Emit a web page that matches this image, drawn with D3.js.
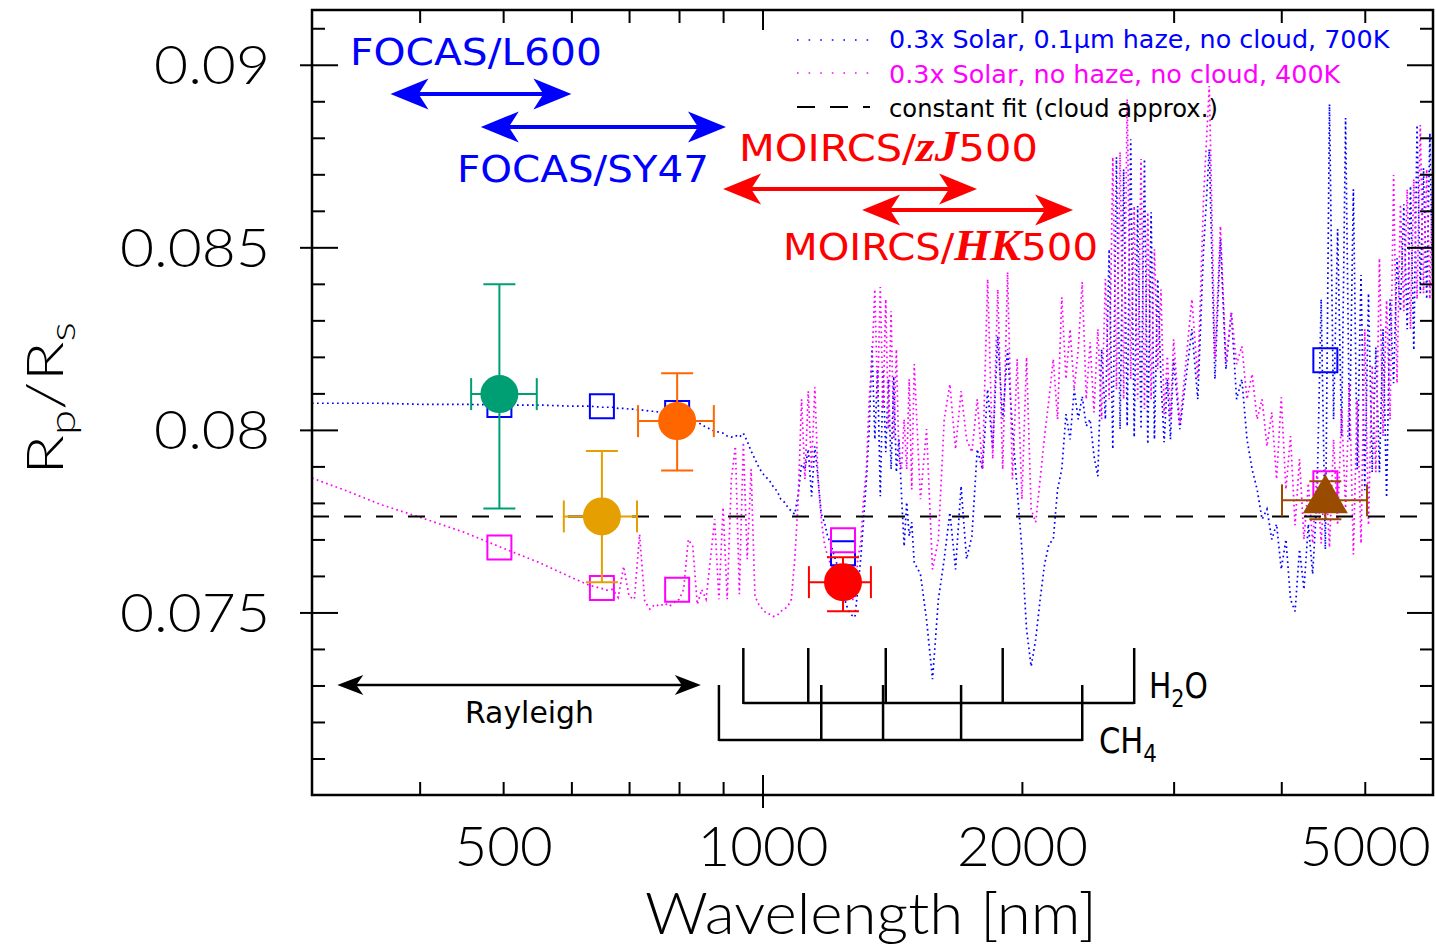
<!DOCTYPE html>
<html><head><meta charset="utf-8">
<script src="https://cdn.jsdelivr.net/npm/d3@7"></script>
<style>
html,body{margin:0;padding:0;background:#fff;}
svg{display:block;}
</style></head><body>
<svg id="chart" width="1436" height="947"></svg>
<script>
// ---------------- DATA ----------------
const wavelengths = [300,330,360,400,450,500,550,600,630,650,660,670,680,690,700,710,720,730,740,750,760,770,780,790,800,810,820,830,840,850,860,
870,880,890,900,910,920,930,940,950,960,970,980,990,1000,1010,1020,1030,1040,1050,1060,1070,1080,1090,1100,1110,1120,1130,1140,1150,1160,1170,1180,1190,1200,1210,1220,1230,1240,1250,1260,1270,1280,1290,1300,1310,1320,1330,1340,1350,1360,1370,1380,1390,1400,1410,1420,1430,1440,1450,1460,1470,1480,1490,1500,
1525,1550,1575,1600,1625,1650,1675,1700,1725,1750,1775,1800,1825,1850,1875,1900,1925,1950,1975,2000,2025,2050,2075,2100,2125,2150,2175,2200,2225,2250,2275,2300,2325,2350,2375,2400,2425,2450,2475,2500,2525,2550,2575,2600,2625,2650,2675,2700,2725,2750,2775,2800,2825,2850,2875,2900,2925,2950,2975,3000,
3050,3100,3150,3200,3250,3300,3350,3400,3450,3500,3550,3600,3650,3700,3750,3800,3850,3900,3950,4000,4050,4100,4150,4200,4250,4300,4350,4400,4450,4500,4550,4600,4650,4700,4750,4800,4850,4900,4950,5000,5050,5100,5150,5200,5250,5300,5350,5400,5450,5500,5550,5600,5650,5700,5750,5800,5850,5900,5950,6000];

// 0.3x Solar, 0.1um haze, no cloud, 700K (blue)
const hazeModel = [0.08073,0.08073,0.08073,0.08070,0.08070,0.08068,0.08068,0.08065,0.08065,0.08062,0.08062,0.08062,0.08059,0.08059,0.08057,0.08057,0.08054,0.08054,0.08051,0.08051,0.08048,0.08048,0.08046,0.08046,0.08043,0.08037,0.08032,0.08026,0.08021,0.08015,0.08007,
0.08002,0.07996,0.07994,0.07991,0.07983,0.07980,0.07985,0.07980,0.07991,0.07969,
0.07942,0.07920,0.07898,0.07881,0.07870,0.07859,0.07843,0.07832,0.07810,0.07802,
0.07788,0.07777,0.07769,0.07824,0.07906,0.07892,0.07947,0.07818,0.07955,0.07865,
0.07769,0.07747,0.07709,0.07687,0.07659,0.07632,0.07605,0.07563,0.07522,0.07503,
0.07492,0.07487,0.07563,0.07646,0.07755,0.07865,0.08002,0.08229,0.07974,0.08166,
0.07818,0.08166,0.07939,0.08139,0.07892,0.08147,0.07884,0.07974,0.07818,0.07681,
0.07802,0.07709,0.07747,0.07637,
0.07605,0.07481,0.07317,0.07536,0.07646,0.07774,0.07618,0.07846,0.07646,0.07709,
0.07947,0.07892,0.08111,0.07947,0.08257,0.08029,0.08221,0.08002,0.07837,0.07673,
0.07454,0.07352,0.07426,0.07536,0.07632,0.07687,0.07700,0.07837,0.07892,0.08043,
0.07974,0.08111,0.08029,0.08092,0.08010,0.08029,0.07928,0.07873,0.08221,0.08029,
0.08495,0.07947,0.08747,0.08002,0.08714,0.08010,0.08796,0.07980,0.08613,0.08002,
0.08742,0.07961,0.08596,0.07974,0.08413,0.08139,0.07966,0.08139,0.07974,0.08194,
0.08002,0.08139,0.08276,0.08084,0.08495,0.08769,0.08139,0.08522,0.08166,0.08322,
0.08084,0.08139,0.07974,0.07892,0.07837,0.07755,0.07783,0.07700,0.07742,0.07618,
0.07700,0.07536,0.07503,0.07673,0.07563,0.07742,0.07605,0.07810,0.08358,0.07673,
0.08892,0.08029,0.08550,0.07983,0.08854,0.07974,0.08659,0.07892,0.08424,0.07835,
0.08374,0.07884,0.08226,0.07884,0.08276,0.07815,0.08358,0.08128,0.08470,0.08325,
0.08618,0.08276,0.08668,0.08218,0.08835,0.08374,0.08717,0.08358,0.08813,0.08325];

// 0.3x Solar, no haze, no cloud, 400K (magenta)
const clearModel = [0.07868,0.07832,0.07796,0.07761,0.07720,0.07676,0.07637,0.07596,0.07574,0.07566,0.07561,0.07563,0.07541,0.07626,0.07544,0.07536,0.07714,0.07531,0.07509,0.07522,0.07517,0.07525,0.07517,0.07528,0.07536,0.07563,0.07700,0.07681,0.07522,0.07563,0.07536,
0.07646,0.07755,0.07536,0.07788,0.07536,0.07865,0.07955,0.07550,0.07966,0.07646,
0.07892,0.07544,0.07522,0.07509,0.07498,0.07495,0.07489,0.07492,0.07503,0.07509,
0.07517,0.07536,0.07646,0.07810,0.08084,0.07865,0.08106,0.07892,0.08117,0.07865,
0.07755,0.07687,0.07654,0.07632,0.07618,0.07605,0.07591,0.07577,0.07563,0.07544,
0.07536,0.07536,0.07646,0.07692,0.07810,0.07892,0.08084,0.08194,0.08385,0.08084,
0.08391,0.08057,0.08358,0.08002,0.08325,0.07974,0.08221,0.07920,0.07892,0.08029,
0.07892,0.08139,0.07837,0.08180,
0.07810,0.08002,0.07618,0.07700,0.08029,0.08125,0.07947,0.08106,0.07974,0.07939,
0.08084,0.07892,0.08413,0.07920,0.08385,0.07892,0.08432,0.07865,0.08194,0.07810,
0.08199,0.07783,0.07747,0.07865,0.07983,0.08084,0.08194,0.08029,0.08363,0.08139,
0.08276,0.08111,0.08221,0.08405,0.08084,0.08240,0.08048,0.08276,0.08029,0.08413,
0.08084,0.08747,0.08111,0.08761,0.08084,0.08906,0.08139,0.08613,0.08084,0.08742,
0.08057,0.08596,0.08084,0.08495,0.08166,0.08385,0.08043,0.08202,0.08029,0.08248,
0.08015,0.08185,0.08358,0.08139,0.08637,0.08942,0.08194,0.08558,0.08185,0.08322,
0.08180,0.08229,0.08084,0.08153,0.08029,0.08084,0.07955,0.08048,0.07865,0.08089,
0.07837,0.07983,0.07739,0.07920,0.07700,0.07854,0.07689,0.07884,0.07689,0.07892,
0.07678,0.07974,0.07739,0.08057,0.07785,0.08128,0.07659,0.08081,0.07689,0.08276,
0.07739,0.08177,0.07884,0.08470,0.07983,0.08355,0.08029,0.08698,0.08128,0.08618,
0.08325,0.08659,0.08276,0.08687,0.08358,0.08835,0.08374,0.08714,0.08358,0.08769];

// band-integrated model values (squares)
const bandWave  = [495, 651, 796, 1240, 4500];
const hazeBand  = [0.08068, 0.08065, 0.08046, 0.07662, 0.08191];
const clearBand = [0.07678, 0.07567, 0.07562, 0.07698, 0.07854];

// observations
const obsWave   = [495, 651, 796, 1240, 4500];
const obsWaveLo = [459, 588, 717, 1132, 4008];
const obsWaveHi = [547, 715, 878, 1336, 5030];
const obsRp     = [0.08098, 0.07763, 0.08024, 0.07583, 0.07807];
const obsRpLo   = [0.07785, 0.07583, 0.07889, 0.07503, 0.07755];
const obsRpHi   = [0.08399, 0.07942, 0.08155, 0.07651, 0.07859];

const constantFit = 0.07763;

// instrument coverage (nm)
const filterNames = ["FOCAS/L600", "FOCAS/SY47", "MOIRCS/zJ500", "MOIRCS/HK500"];
const filterFrom  = [370, 471, 900, 1305];
const filterTo    = [600, 907, 1774, 2293];
const rayleighRange = [321, 848];
const h2oBands = [950, 1130, 1390, 1900, 2700];
const ch4Bands = [890, 1170, 1380, 1700, 2350];

const legendLabels = ["0.3x Solar, 0.1\u03bcm haze, no cloud, 700K", "0.3x Solar, no haze, no cloud, 400K", "constant fit (cloud approx.)"];
const xTickLabels = [500, 1000, 2000, 5000];
const xMinorTicks = [400, 500, 600, 700, 800, 900, 2000, 3000, 4000, 5000];
const xMajorTicks = [1000];
const yTickLabels = [0.075, 0.08, 0.085, 0.09];
const yMinorTicks = [0.071,0.072,0.073,0.074,0.076,0.077,0.078,0.079,0.081,0.082,0.083,0.084,0.086,0.087,0.088,0.089,0.091];

// ---------------- LAYOUT ----------------
const W = 1436, H = 947;
const L = 312, R = 1433, T = 10, B = 795;
const x = d3.scaleLog().domain([300, 6000]).range([L, R]);
const y = d3.scaleLinear().domain([0.07, 0.0915]).range([B, T]);

const BLUE = "#0000ff", MAG = "#ff00ff", RED = "#ff0000";
const obsColor = ["#009e73", "#e69f00", "#ff6600", "#ff0000", "#994c00"];
const AXFONT = "Lato, Roboto, 'DejaVu Sans', sans-serif";
const TXFONT = "'DejaVu Sans', Roboto, sans-serif";

const svg = d3.select("#chart");
svg.append("rect").attr("width", W).attr("height", H).attr("fill", "#fff");
svg.append("defs").append("clipPath").attr("id", "clip")
  .append("rect").attr("x", L).attr("y", T).attr("width", R - L).attr("height", B - T);

function fitX(sel, ax, target) {
  const w = sel.node().getBBox().width;
  const s = target / w;
  sel.attr("transform", `translate(${ax * (1 - s)},0) scale(${s},1)`);
}

// ---------------- MODELS ----------------
const plot = svg.append("g").attr("clip-path", "url(#clip)");
const line = d3.line().x((d, i) => x(wavelengths[i])).y(d => y(d));
plot.append("path").datum(hazeModel).attr("d", line)
  .attr("fill", "none").attr("stroke", BLUE).attr("stroke-width", 1.7).attr("stroke-dasharray", "1.7,3.3");
plot.append("path").datum(clearModel).attr("d", line)
  .attr("fill", "none").attr("stroke", MAG).attr("stroke-width", 1.7).attr("stroke-dasharray", "1.7,3.3");

plot.append("line").attr("x1", x(300)).attr("x2", x(6000))
  .attr("y1", y(constantFit)).attr("y2", y(constantFit))
  .attr("stroke", "#000").attr("stroke-width", 2).attr("stroke-dasharray", "17,15");

// band squares
const sq = d3.symbol(d3.symbolSquare, 576);
bandWave.forEach((w, i) => {
  plot.append("path").attr("d", sq).attr("transform", `translate(${x(w)},${y(hazeBand[i])})`)
    .attr("fill", "none").attr("stroke", BLUE).attr("stroke-width", 2);
  plot.append("path").attr("d", sq).attr("transform", `translate(${x(w)},${y(clearBand[i])})`)
    .attr("fill", "none").attr("stroke", MAG).attr("stroke-width", 2);
});

// observations
const cap = 16;
obsWave.forEach((w, i) => {
  const g = plot.append("g").attr("stroke", obsColor[i]).attr("stroke-width", 2);
  const cx = x(w), cy = y(obsRp[i]);
  const x0 = x(obsWaveLo[i]), x1 = x(obsWaveHi[i]), y0 = y(obsRpLo[i]), y1 = y(obsRpHi[i]);
  g.append("line").attr("x1", x0).attr("x2", x1).attr("y1", cy).attr("y2", cy);
  g.append("line").attr("x1", cx).attr("x2", cx).attr("y1", y0).attr("y2", y1);
  g.append("line").attr("x1", x0).attr("x2", x0).attr("y1", cy - cap).attr("y2", cy + cap);
  g.append("line").attr("x1", x1).attr("x2", x1).attr("y1", cy - cap).attr("y2", cy + cap);
  g.append("line").attr("x1", cx - cap).attr("x2", cx + cap).attr("y1", y0).attr("y2", y0);
  g.append("line").attr("x1", cx - cap).attr("x2", cx + cap).attr("y1", y1).attr("y2", y1);
  const sym = i === 4 ? d3.symbol(d3.symbolTriangle, 878) : d3.symbol(d3.symbolCircle, Math.PI * 19 * 19);
  plot.append("path").attr("d", sym).attr("transform", `translate(${cx},${cy})`).attr("fill", obsColor[i]);
});

// ---------------- FRAME & AXES ----------------
const axG = svg.append("g");
function styleAx(g) { g.select(".domain").remove(); g.selectAll("line").attr("stroke", "#000").attr("stroke-width", 2); }
axG.append("g").attr("transform", `translate(0,${B})`).call(d3.axisBottom(x).tickValues(xMinorTicks).tickSize(-13).tickFormat("")).call(styleAx);
axG.append("g").attr("transform", `translate(0,${B})`).call(d3.axisBottom(x).tickValues(xMajorTicks).tickSize(-20).tickFormat("")).call(styleAx);
axG.append("g").attr("transform", `translate(0,${B})`).call(d3.axisBottom(x).tickValues(xMajorTicks).tickSize(13).tickFormat("")).call(styleAx);
axG.append("g").attr("transform", `translate(0,${T})`).call(d3.axisTop(x).tickValues(xMinorTicks).tickSize(-13).tickFormat("")).call(styleAx);
axG.append("g").attr("transform", `translate(0,${T})`).call(d3.axisTop(x).tickValues(xMajorTicks).tickSize(-20).tickFormat("")).call(styleAx);
axG.append("g").attr("transform", `translate(${L},0)`).call(d3.axisLeft(y).tickValues(yMinorTicks).tickSize(-13).tickFormat("")).call(styleAx);
axG.append("g").attr("transform", `translate(${L},0)`).call(d3.axisLeft(y).tickValues(yTickLabels).tickSize(-26).tickFormat("")).call(styleAx);
axG.append("g").attr("transform", `translate(${L},0)`).call(d3.axisLeft(y).tickValues(yTickLabels).tickSize(12).tickFormat("")).call(styleAx);
axG.append("g").attr("transform", `translate(${R},0)`).call(d3.axisRight(y).tickValues(yMinorTicks).tickSize(-13).tickFormat("")).call(styleAx);
axG.append("g").attr("transform", `translate(${R},0)`).call(d3.axisRight(y).tickValues(yTickLabels).tickSize(-26).tickFormat("")).call(styleAx);

svg.append("rect").attr("x", L).attr("y", T).attr("width", R - L).attr("height", B - T)
  .attr("fill", "none").attr("stroke", "#000").attr("stroke-width", 2.5);

// tick labels
const xl = svg.append("g").attr("transform", `translate(0,${B})`)
  .call(d3.axisBottom(x).tickValues(xTickLabels).tickSize(0).tickPadding(31).tickFormat(d => String(d)));
xl.select(".domain").remove();
xl.selectAll("text").attr("font-family", AXFONT).attr("font-weight", 300).attr("font-size", 56).attr("fill", "#000");
{
  const t = xl.selectAll("text").filter(d => d === 1000);
  const s = 131 / t.node().getBBox().width;
  xl.selectAll("text").attr("transform", `scale(${s},1)`);
}
const yl = svg.append("g").attr("transform", `translate(${L},0)`)
  .call(d3.axisLeft(y).tickValues(yTickLabels).tickSize(0).tickPadding(42).tickFormat(d => String(d)));
yl.select(".domain").remove();
yl.selectAll("text").attr("font-family", AXFONT).attr("font-weight", 300).attr("font-size", 53).attr("fill", "#000").attr("dy", "0.36em");
{
  const t = yl.selectAll("text").filter(d => d === 0.085);
  const s = 150 / t.node().getBBox().width;
  yl.selectAll("text").attr("transform", `translate(${-42 * (1 - s)},0) scale(${s},1)`);
}

// axis titles
const xt = svg.append("text").attr("x", 645).attr("y", 934).attr("font-family", AXFONT).attr("font-weight", 300)
  .attr("font-size", 58).attr("fill", "#000").text("Wavelength [nm]");
fitX(xt, 645, 452);
const ytg = svg.append("g").attr("transform", "translate(63,475) rotate(-90)");
const yt = ytg.append("text").attr("x", 0).attr("y", 0).attr("font-family", AXFONT).attr("font-weight", 300)
  .attr("font-size", 52).attr("fill", "#000");
yt.append("tspan").text("R");
yt.append("tspan").attr("font-size", 36).attr("dy", 12).text("p");
yt.append("tspan").attr("dy", -12).text("/R");
yt.append("tspan").attr("font-size", 36).attr("dy", 12).text("s");
fitX(yt, 0, 153);

// ---------------- ANNOTATIONS ----------------
function dblArrow(g, xa, xb, py, color, sw, Lh, hw, N) {
  g.append("line").attr("x1", xa + N - 1).attr("x2", xb - N + 1).attr("y1", py).attr("y2", py)
    .attr("stroke", color).attr("stroke-width", sw);
  g.append("path").attr("fill", color)
    .attr("d", `M${xa},${py}L${xa + Lh},${py - hw}L${xa + N},${py}L${xa + Lh},${py + hw}Z`);
  g.append("path").attr("fill", color)
    .attr("d", `M${xb},${py}L${xb - Lh},${py - hw}L${xb - N},${py}L${xb - Lh},${py + hw}Z`);
}
const ann = svg.append("g");
const arrowY = [94, 127, 189, 210];
const arrowCol = [BLUE, BLUE, RED, RED];
filterNames.forEach((n, i) => dblArrow(ann, x(filterFrom[i]), x(filterTo[i]), arrowY[i], arrowCol[i], 4, 38, 15.5, 28));
dblArrow(ann, x(rayleighRange[0]), x(rayleighRange[1]), 685, "#000", 2.5, 26, 10, 19);

function label(px, py, w, color, parts, fs) {
  const t = ann.append("text").attr("x", px).attr("y", py).attr("fill", color)
    .attr("font-family", TXFONT).attr("font-size", fs);
  parts.forEach(p => {
    const s = t.append("tspan").text(p.t);
    if (p.it) s.attr("font-family", "'Liberation Serif', 'DejaVu Serif', serif").attr("font-style", "italic").attr("font-weight", "bold").attr("font-size", fs * 1.15);
    if (p.sub) s.attr("font-size", fs * 0.7).attr("dy", p.sub);
    if (p.up) s.attr("dy", p.up);
  });
  fitX(t, px, w);
  return t;
}
label(350, 65, 252, BLUE, [{t: "FOCAS/L600"}], 38);
label(457, 182, 252, BLUE, [{t: "FOCAS/SY47"}], 38);
label(739, 161, 299, RED, [{t: "MOIRCS/"}, {t: "zJ", it: true}, {t: "500"}], 38);
label(783, 260, 315, RED, [{t: "MOIRCS/"}, {t: "HK", it: true}, {t: "500"}], 38);
label(465, 723, 129, "#000", [{t: "Rayleigh"}], 31);
label(1149, 698, 59, "#000", [{t: "H"}, {t: "2", sub: 9}, {t: "O", up: -9}], 36);
label(1099, 753, 58, "#000", [{t: "CH"}, {t: "4", sub: 9}], 36);

// molecular band brackets
function bracket(bands, pyBase, color) {
  const g = ann.append("g").attr("stroke", color).attr("stroke-width", 2.5);
  g.append("line").attr("x1", x(bands[0])).attr("x2", x(bands[bands.length - 1])).attr("y1", pyBase).attr("y2", pyBase);
  bands.forEach(b => g.append("line").attr("x1", x(b)).attr("x2", x(b)).attr("y1", pyBase - 55).attr("y2", pyBase + 1));
}
bracket(h2oBands, 703, "#000");
bracket(ch4Bands, 740, "#000");

// ---------------- LEGEND ----------------
const leg = svg.append("g");
const legY = [40, 73, 107];
const legBase = [48, 83, 117];
const legW = [502, 453, 329];
const legCol = [BLUE, MAG, "#000"];
const legDash = ["1.6,10", "1.6,10", "18,15"];
legendLabels.forEach((lab, i) => {
  leg.append("line").attr("x1", 797).attr("x2", 870).attr("y1", legY[i]).attr("y2", legY[i])
    .attr("stroke", legCol[i]).attr("stroke-width", i === 2 ? 2 : 1.7).attr("stroke-dasharray", legDash[i]);
  const t = leg.append("text").attr("x", 889).attr("y", legBase[i]).attr("fill", legCol[i])
    .attr("font-family", TXFONT).attr("font-size", 24).text(lab);
  fitX(t, 889, legW[i]);
});
</script>
</body></html>
